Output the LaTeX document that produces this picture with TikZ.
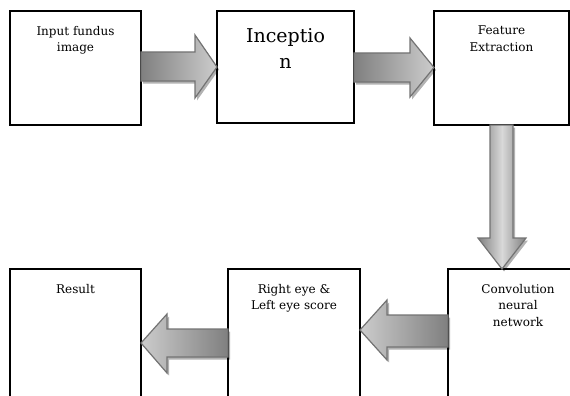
\documentclass[tikz,border=0pt]{standalone}
\usepackage{fontspec}
\setmainfont{DejaVu Serif}
\usetikzlibrary{calc,shadows}
\begin{document}
\begin{tikzpicture}[x=1pt,y=-1pt,
  box/.style={draw=black,line width=1.3pt,inner sep=0pt,outer sep=0pt,anchor=north west},
  lbl/.style={inner sep=0pt,anchor=north,align=center,font=\fontsize{12}{16.5}\selectfont},
  barrow/.style={draw=black!55,line width=1.2pt,line join=miter,
    drop shadow={shadow xshift=2pt,shadow yshift=-2.5pt,opacity=0.3,fill=black}},
  toright/.style={barrow,left color=black!50,right color=black!20},
  toleft/.style={barrow,left color=black!20,right color=black!50},
  todown/.style={barrow,left color=black!50,right color=black!50,middle color=black!15}]
\useasboundingbox (0,0) rectangle (570,396);
\clip (0,0) rectangle (570,396);
% boxes
\node[box,minimum width=131pt,minimum height=114pt] (b1) at (10,11) {};
\node[box,minimum width=137pt,minimum height=112pt] (b2) at (217,11) {};
\node[box,minimum width=135pt,minimum height=114pt] (b3) at (434,11) {};
\node[box,minimum width=140pt,minimum height=150pt] (b4) at (448,269) {};
\node[box,minimum width=132pt,minimum height=150pt] (b5) at (228,269) {};
\node[box,minimum width=131pt,minimum height=150pt] (b6) at (10,269) {};
% labels
\node[lbl] (t1) at ($(b1.north)+(0,15)$) {Input fundus\\image};
\node[lbl,font=\fontsize{19}{26}\selectfont] (t2) at ($(b2.north)+(0,17)$) {Inceptio\\n};
\node[lbl] (t3) at ($(b3.north)+(0,15)$) {Feature\\Extraction};
\node[lbl] (t4) at ($(b4.north)+(0,15)$) {Convolution\\neural\\network};
\node[lbl] (t5) at ($(b5.north)+(0,15)$) {Right eye \&\\Left eye score};
\node[lbl] (t6) at ($(b6.north)+(0,15)$) {Result};
% block arrows
\path[toright] let \p1=(b1.east), \p2=(b2.west) in
  (\x1,-52pt) -- (\x2-22pt,-52pt) -- (\x2-22pt,-35pt) -- (\x2,-67pt)
  -- (\x2-22pt,-98pt) -- (\x2-22pt,-81pt) -- (\x1,-81pt) -- cycle;
\path[toright] let \p1=(b2.east), \p2=(b3.west) in
  (\x1,-53pt) -- (\x2-24pt,-53pt) -- (\x2-24pt,-38pt) -- (\x2,-67.5pt)
  -- (\x2-24pt,-97pt) -- (\x2-24pt,-82pt) -- (\x1,-82pt) -- cycle;
\path[todown] let \p1=(b3.south), \p2=(b4.north) in
  (490pt,\y1) -- (490pt,\y2+31pt) -- (478pt,\y2+31pt) -- (502pt,\y2)
  -- (526pt,\y2+31pt) -- (513pt,\y2+31pt) -- (513pt,\y1) -- cycle;
\path[toleft] let \p1=(b4.west), \p2=(b5.east) in
  (\x1,-315pt) -- (\x2+27pt,-315pt) -- (\x2+27pt,-300pt) -- (\x2,-330pt)
  -- (\x2+27pt,-360pt) -- (\x2+27pt,-347pt) -- (\x1,-347pt) -- cycle;
\path[toleft] let \p1=(b5.west), \p2=(b6.east) in
  (\x1,-329pt) -- (\x2+26pt,-329pt) -- (\x2+26pt,-314pt) -- (\x2,-343pt)
  -- (\x2+26pt,-373pt) -- (\x2+26pt,-357pt) -- (\x1,-357pt) -- cycle;
\end{tikzpicture}
\end{document}
